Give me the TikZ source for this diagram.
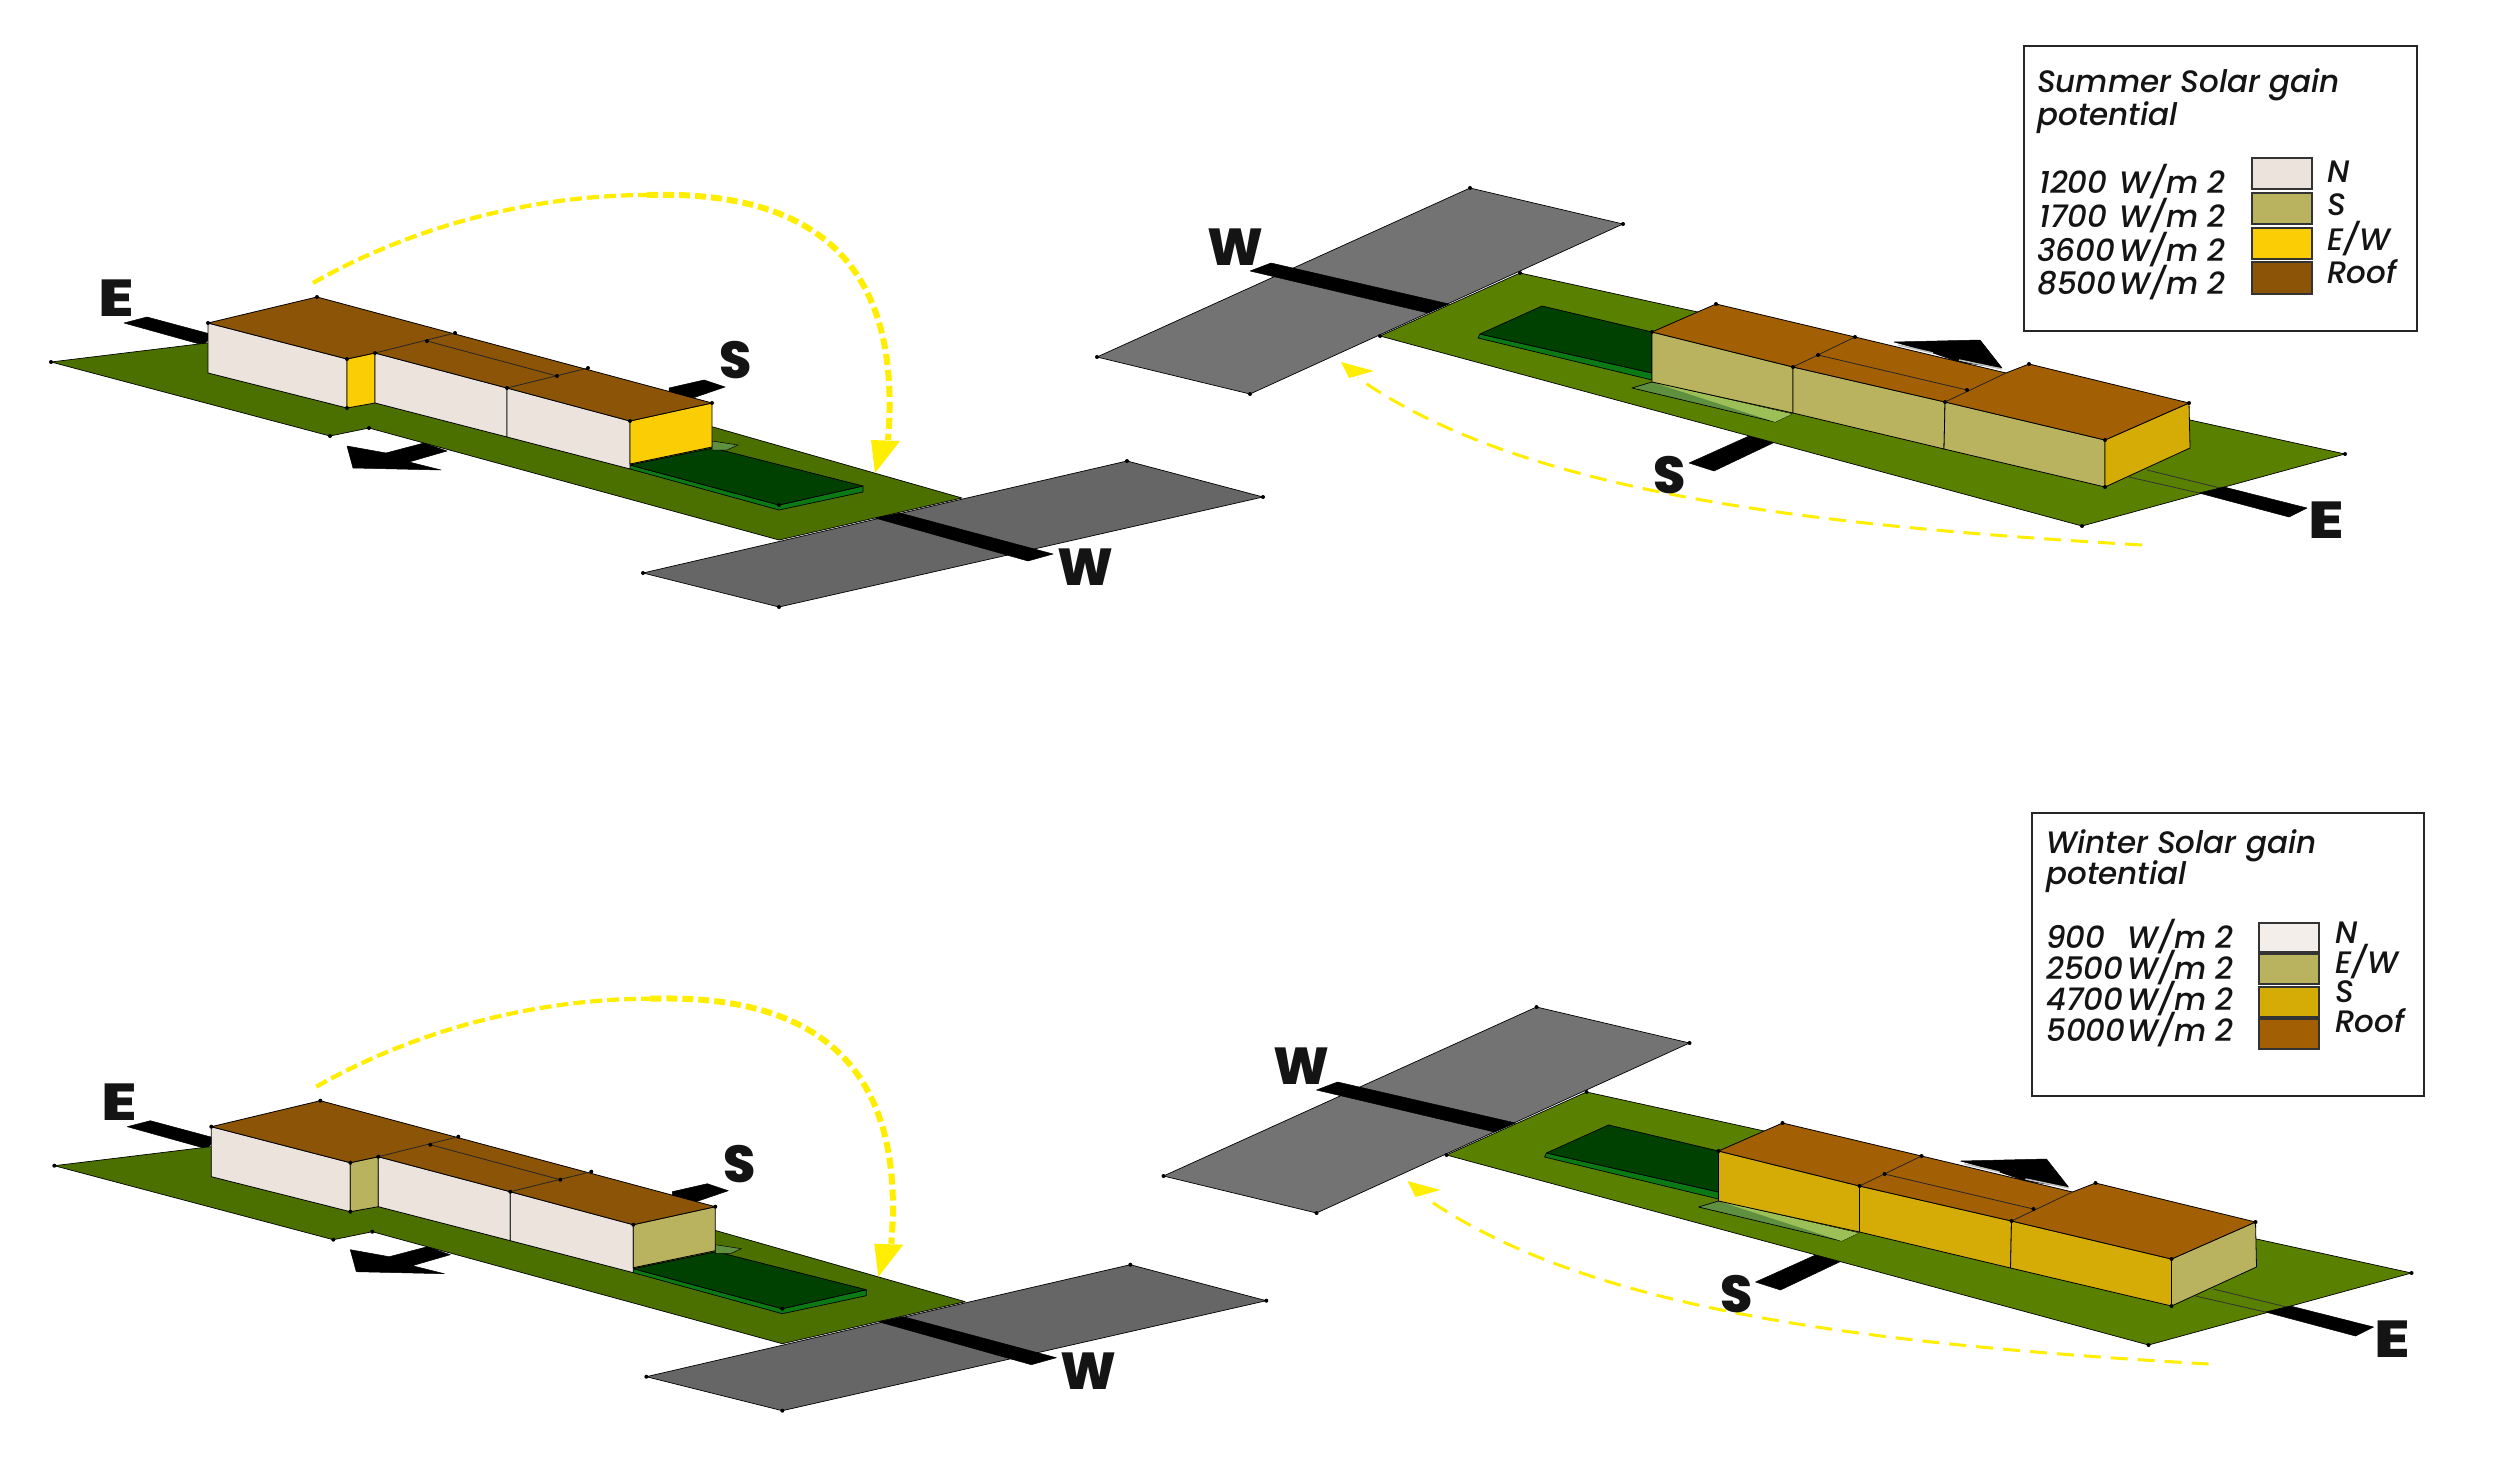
\documentclass[tikz,border=0pt]{standalone}
\usepackage{fontspec}
\newfontfamily\legfont{Poppins Medium}[ItalicFont={Poppins Medium Italic}]
\newfontfamily\dirfont{Poppins ExtraBold}
\definecolor{north}{HTML}{EBE3DC}
\definecolor{straw}{HTML}{B9B35F}
\definecolor{yel}{HTML}{FBCD05}
\definecolor{gold}{HTML}{D5AC06}
\definecolor{roofL}{HTML}{8B5406}
\definecolor{roofR}{HTML}{A25F04}
\definecolor{groundL}{HTML}{4C7000}
\definecolor{groundR}{HTML}{5A8000}
\definecolor{roadL}{HTML}{666666}
\definecolor{roadR}{HTML}{737373}
\definecolor{pool}{HTML}{004000}
\definecolor{poolside}{HTML}{0B7A14}
\definecolor{wedgeA}{HTML}{5F9040}
\definecolor{wedgeB}{HTML}{9CBF58}
\definecolor{sun}{HTML}{FFEE00}
\tikzset{
  x=1pt,y=-1pt,
  face/.style={draw=black,line width=0.8pt,line join=round},
  thin edge/.style={draw=black!85,line width=0.8pt},
  bar/.style={fill=black,draw=black,line width=0.5pt,line join=round},
  plate/.style={draw=black,line width=0.7pt,line join=round},
  sunarcA/.style={draw=sun,line width=4.2pt,dash pattern=on 12pt off 5pt},
  sunarcB/.style={draw=sun,line width=6pt,dash pattern=on 11pt off 5pt},
  sunarcR/.style={draw=sun,line width=3pt,dash pattern=on 17pt off 10pt},
  sunhead/.style={fill=sun,draw=none},
  dirlabel/.style={font=\dirfont\fontsize{52}{52}\selectfont,text=black!92,inner sep=0pt},
  boxframe/.style={draw=black!85,line width=1.6pt,fill=white},
  swatch/.style={draw=black!80,line width=1.3pt},
  legtext/.style={font=\legfont\itshape\fontsize{31}{31}\selectfont,anchor=base west,inner sep=0pt,text=black!92},
  legvalue/.style={legtext,anchor=base east},
}
\newcommand{\wideE}{\scalebox{1.25}[1]{E}}
\newcommand{\cornerdots}[1]{\foreach \p in {#1}{\fill[black] \p circle (2pt);}}
\newcommand{\leftscene}[4]{% prefix, x, y, side colour
\begin{scope}[shift={(#2,#3)}]
  \path[plate,fill=roadL] (643,573)--(779,607)--(1263,497)--(1127,461)--cycle;
  \path[bar] (124,323)--(147,317)--(214,335)--(203,345)--cycle;
  \path[bar] (669,388)--(704,380)--(725,387)--(687,400)--(669,395)--cycle;
  \path[bar] (347,446)--(386,453)--(424,443)--(447,451)--(409,462)--(441,470)--(353,468)--cycle;
  \path[plate,fill=groundL] (51,362)--(207,343)--(713,427)--(962,498)--(779,540)--(369,428)--(330,436)--cycle;
  \path[bar] (875,518)--(900,513)--(1053,554)--(1028,561)--cycle;
  \path[plate,fill=poolside] (630,465)--(779,505)--(863,486)--(863,492)--(779,510)--(630,469)--cycle;
  \path[plate,fill=pool] (630,465)--(713,448)--(863,486)--(779,505)--cycle;
  \path[draw=black,line width=0.5pt,fill=wedgeA] (712,441)--(738,445)--(727,450)--(712,450)--cycle;
  % building
  \path[face,fill=north] (208,323)--(347,359)--(347,408)--(208,373)--cycle;
  \path[face,fill=#4] (347,359)--(375,353)--(375,403)--(347,408)--cycle;
  \path[face,fill=north] (375,353)--(507,388)--(507,437)--(375,403)--cycle;
  \path[face,fill=north] (507,388)--(630,421)--(630,469)--(507,437)--cycle;
  \path[face,fill=#4] (630,421)--(712,403)--(712,447)--(630,464)--cycle;
  \path[face,fill=roofL] (208,323)--(317,297)--(712,403)--(630,421)--(507,388)--(375,353)--(347,359)--cycle;
  \path[thin edge] (375,353)--(455,333);
  \path[thin edge] (427,341)--(557,376);
  \path[thin edge] (507,388)--(588,368);
  \cornerdots{(208,323),(317,297),(712,403),(630,421),(507,388),(375,353),(347,359),(347,408),(427,341),(455,333),(557,376),(588,368),(51,362),(330,436),(369,428),(779,607),(643,573),(1263,497),(1127,461),(779,505)}
  % sun path
  \draw[sunarcA] (313,283) .. controls (420,222) and (542,195) .. (647,195);
  \draw[sunarcB] (647,195) .. controls (811,190) and (903,260) .. (888,440);
  \fill[sunhead] (871,440)--(900,441)--(875,473)--cycle;
  \node[dirlabel] (#1E) at (116,298) {\wideE};
  \node[dirlabel] (#1S) at (736,360) {S};
  \node[dirlabel] (#1W) at (1085,567) {W};
\end{scope}}
\newcommand{\rightscene}[5]{% prefix, x, y, south, east
\begin{scope}[shift={(#2,#3)}]
  \path[plate,fill=roadR] (1097,357)--(1250,394)--(1623,224)--(1470,188)--cycle;
  \path[bar] (1749,436)--(1775,442)--(1714,471)--(1689,463)--cycle;
  \path[plate,fill=groundR] (1520,273)--(2345,454)--(2082,526)--(1380,336)--cycle;
  \path[bar] (1250,271)--(1271,263)--(1449,304)--(1428,313)--cycle;
  \draw[black!80,line width=0.8pt] (2147,470)--(2220,488) (2129,477)--(2199,493);
  \path[bar] (2199,493)--(2224,487)--(2307,508)--(2289,517)--cycle;
  \path[plate,fill=poolside] (1480,334)--(1652,373)--(1652,380)--(1478,338)--cycle;
  \path[plate,fill=pool] (1480,334)--(1542,306)--(1652,332)--(1652,373)--cycle;
  \path[plate,fill=wedgeA] (1632,388)--(1775,422)--(1792,414)--(1652,382)--cycle;
  \path[fill=wedgeB] (1652,382)--(1792,414)--(1775,422)--cycle;
  \path[bar] (1894,342)--(1980,340)--(2002,368)--(1959,362)--(1930,352)--cycle;
  \draw[black!25,line width=1.5pt] (1898,345)--(1933,353) (1959,360)--(2002,369);
  % building
  \path[face,fill=#4] (1652,332)--(1793,367)--(1793,413)--(1652,382)--cycle;
  \path[face,fill=#4] (1793,367)--(1945,402)--(1944,449)--(1793,413)--cycle;
  \path[face,fill=#4] (1945,402)--(2105,440)--(2105,487)--(1944,449)--cycle;
  \path[face,fill=#5] (2105,440)--(2189,403)--(2190,448)--(2105,487)--cycle;
  \path[face,fill=roofR] (1652,332)--(1716,304)--(1855,337)--(2006,373)--(2029,364)--(2189,403)--(2105,440)--(1945,402)--(1793,367)--cycle;
  \path[thin edge] (1793,367)--(1855,337);
  \path[thin edge] (1818,355)--(1967,390);
  \path[thin edge] (1945,402)--(2006,373);
  \cornerdots{(1652,332),(1716,304),(1855,337),(1818,355),(1967,390),(2029,364),(2189,403),(2105,440),(1945,402),(1793,367),(2105,487),(1097,357),(1250,394),(1623,224),(1470,188),(2345,454),(2082,526),(1520,273),(1380,336)}
  % sun path
  \draw[sunarcR] (2142,545) .. controls (1796,525) and (1518,490) .. (1358,378);
  \fill[sunhead] (1341,362)--(1349,378)--(1374,371)--cycle;
  \node[dirlabel] (#1W) at (1235,247) {W};
  \node[dirlabel] (#1S) at (1670,475) {S};
  \node[dirlabel] (#1E) at (2326,520) {\wideE};
\end{scope}}
\begin{document}
\begin{tikzpicture}
\useasboundingbox (0,0) rectangle (2500,1482);
\fill[white] (0,0) rectangle (2500,1482);
\leftscene{a}{0}{0}{yel}
\leftscene{c}{3.3}{803.7}{straw}
\rightscene{b}{0}{0}{straw}{gold}
\rightscene{d}{66.5}{819}{gold}{straw}
% summer legend
\path[boxframe] (2024,46) rectangle (2417,331);
\node[legtext] (st1) at (2037,93) {Summer Solar gain};
\node[legtext] (st2) at (2037,126) {potential};
\node[legtext] (sn1) at (2039,194) {1200};
\node[legtext] (sn2) at (2039,228) {1700};
\node[legtext] (sn3) at (2037,261) {3600};
\node[legtext] (sn4) at (2037,294) {8500};
\node[legvalue] (sv1) at (2226,194) {W/m 2};
\node[legvalue] (sv2) at (2226,228) {W/m 2};
\node[legvalue] (sv3) at (2226,261) {W/m 2};
\node[legvalue] (sv4) at (2226,294) {W/m 2};
\path[swatch,fill=north] (2252,158) rectangle (2312,189);
\path[swatch,fill=straw] (2252,193) rectangle (2312,224);
\path[swatch,fill=yel] (2252,228) rectangle (2312,259);
\path[swatch,fill=roofL] (2252,262) rectangle (2312,294);
\node[legtext] (sl1) at (2327,183) {N};
\node[legtext] (sl2) at (2327,216) {S};
\node[legtext] (sl3) at (2327,250) {E/W};
\node[legtext] (sl4) at (2327,283) {Roof};
% winter legend
\path[boxframe] (2032,813) rectangle (2424,1096);
\node[legtext] (wt1) at (2046,853) {Winter Solar gain};
\node[legtext] (wt2) at (2046,884) {potential};
\node[legtext] (wn1) at (2046,948) {900};
\node[legtext] (wn2) at (2046,979) {2500};
\node[legtext] (wn3) at (2046,1010) {4700};
\node[legtext] (wn4) at (2046,1041) {5000};
\node[legvalue] (wu1) at (2234,948) {W/m 2};
\node[legvalue] (wu2) at (2234,979) {W/m 2};
\node[legvalue] (wu3) at (2234,1010) {W/m 2};
\node[legvalue] (wu4) at (2234,1041) {W/m 2};
\path[swatch,fill=north!60!white] (2259,923) rectangle (2319,952);
\path[swatch,fill=straw] (2259,954) rectangle (2319,984);
\path[swatch,fill=gold] (2259,987) rectangle (2319,1017);
\path[swatch,fill=roofR] (2259,1019) rectangle (2319,1049);
\node[legtext] (wl1) at (2335,943) {N};
\node[legtext] (wl2) at (2335,973) {E/W};
\node[legtext] (wl3) at (2335,1002) {S};
\node[legtext] (wl4) at (2335,1032) {Roof};
\end{tikzpicture}
\end{document}
